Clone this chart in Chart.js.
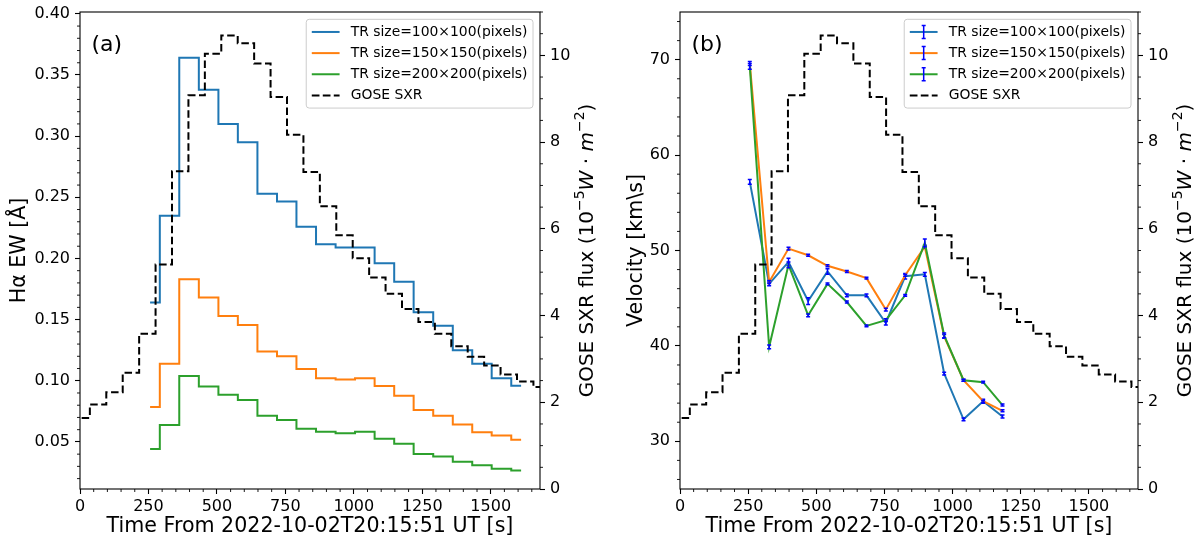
<!DOCTYPE html>
<html>
<head>
<meta charset="utf-8">
<script src="https://cdn.jsdelivr.net/npm/chart.js@4.4.0/dist/chart.umd.min.js"></script>
<style>
  html, body { margin: 0; padding: 0; background: #fff; }
  #wrap { position: relative; width: 1204px; height: 540px; }
  .panel { position: absolute; top: 0; width: 602px; height: 540px; }
</style>
</head>
<body>
<div id="wrap">
  <div class="panel" style="left:0"><canvas id="chartA" width="602" height="540"></canvas></div>
  <div class="panel" style="left:602px"><canvas id="chartB" width="602" height="540"></canvas></div>
</div>
<script>
const FONT = "'DejaVu Sans', sans-serif";

// 1. Data
// TR window times (s) - Halpha EW series, step 'mid'
const trTimes = [256, 327, 398, 470, 541, 612, 684, 755, 826, 898, 969, 1040, 1112, 1183, 1254, 1326, 1397, 1468, 1539, 1611];
const ewTR100 = [0.164, 0.235, 0.364, 0.338, 0.310, 0.295, 0.253, 0.2465, 0.226, 0.2116, 0.209, 0.209, 0.196, 0.181, 0.156, 0.145, 0.125, 0.114, 0.102, 0.096];
const ewTR150 = [0.0785, 0.114, 0.183, 0.168, 0.153, 0.1456, 0.124, 0.120, 0.1096, 0.102, 0.101, 0.102, 0.0957, 0.0878, 0.076, 0.0714, 0.0643, 0.058, 0.0553, 0.0518];
const ewTR200 = [0.0442, 0.0638, 0.1038, 0.0954, 0.0886, 0.0842, 0.0714, 0.0679, 0.0608, 0.0584, 0.057, 0.0584, 0.0525, 0.0484, 0.0402, 0.038, 0.0337, 0.0309, 0.028, 0.0266];

// GOES SXR flux (1e-5 W/m^2), step 'mid'
const goesTimes = [6, 66, 126, 186, 246, 306, 366, 426, 486, 546, 606, 666, 726, 786, 846, 906, 966, 1026, 1086, 1146, 1206, 1266, 1326, 1386, 1446, 1506, 1566, 1626, 1686];
const goesFlux = [1.64, 1.95, 2.23, 2.68, 3.58, 5.18, 7.33, 9.08, 10.04, 10.46, 10.28, 9.81, 9.04, 8.17, 7.31, 6.52, 5.85, 5.32, 4.88, 4.50, 4.15, 3.85, 3.58, 3.29, 3.05, 2.85, 2.64, 2.48, 2.35];

// velocities (km/s) with error bars
const velTimes = [256, 327, 398, 470, 541, 612, 684, 755, 826, 898, 969, 1040, 1112, 1183];
const velTR100 = [57.2, 46.5, 48.8, 44.7, 47.8, 45.3, 45.3, 42.4, 47.3, 47.5, 37.1, 32.3, 34.2, 32.6];
const velTR150 = [69.6, 46.7, 50.2, 49.5, 48.4, 47.8, 47.1, 43.8, 47.4, 50.4, 41.0, 36.4, 34.2, 33.2];
const velTR200 = [69.3, 39.9, 48.5, 43.2, 46.5, 44.6, 42.1, 42.7, 45.3, 50.8, 41.1, 36.4, 36.2, 33.8];
const errTR100 = [0.25, 0.2, 0.4, 0.35, 0.3, 0.15, 0.15, 0.2, 0.3, 0.2, 0.15, 0.15, 0.2, 0.15];
const errTR150 = [0.2, 0.15, 0.15, 0.1, 0.1, 0.1, 0.1, 0.15, 0.1, 0.15, 0.2, 0.1, 0.1, 0.1];
const errTR200 = [0.3, 0.2, 0.3, 0.15, 0.1, 0.1, 0.1, 0.15, 0.1, 0.4, 0.25, 0.1, 0.1, 0.1];

// tick labels
const timeTicks = [0, 250, 500, 750, 1000, 1250, 1500];
const ewTicks = [0.05, 0.10, 0.15, 0.20, 0.25, 0.30, 0.35, 0.40];
const fluxTicks = [0, 2, 4, 6, 8, 10];
const velTicks = [30, 40, 50, 60, 70];

const seriesNames = ['TR size=100\u00d7100(pixels)', 'TR size=150\u00d7150(pixels)', 'TR size=200\u00d7200(pixels)', 'GOSE SXR'];
const seriesColors = ['#1f77b4', '#ff7f0e', '#2ca02c', '#000000'];

function toXY(xs, ys) {
  return xs.map((x, i) => ({ x: x, y: ys[i] }));
}

// 2. Extra drawing: frame, minor ticks, error bars, legend, labels
function drawMinor(ctx, scale, step, major, side, a) {
  const n0 = Math.ceil(scale.min / step - 1e-9), n1 = Math.floor(scale.max / step + 1e-9);
  ctx.beginPath();
  for (let n = n0; n <= n1; n++) {
    const v = n * step;
    const r = v / major;
    if (Math.abs(r - Math.round(r)) < 1e-6) continue;
    const p = scale.getPixelForValue(v);
    if (side === 'bottom') { ctx.moveTo(p, a.bottom); ctx.lineTo(p, a.bottom + 3); }
    if (side === 'left') { ctx.moveTo(a.left, p); ctx.lineTo(a.left - 3, p); }
    if (side === 'right') { ctx.moveTo(a.right, p); ctx.lineTo(a.right + 3, p); }
  }
  ctx.stroke();
}

function drawLegend(ctx, a, withErr) {
  const fs = 13.9;
  ctx.font = fs + 'px ' + FONT;
  const tw = Math.max(...seriesNames.map(s => ctx.measureText(s).width));
  const w = tw + 0.8 * fs + 2 * fs + 0.8 * fs;
  const rowH = 14.2, gap = 0.5 * fs;
  const h = 0.8 * fs + 4 * rowH + 3 * gap;
  const bx = a.right - 7 - w, by = a.top + 7.3;
  ctx.save();
  ctx.beginPath();
  ctx.roundRect(bx, by, w, h, 3);
  ctx.fillStyle = 'rgba(255,255,255,0.8)';
  ctx.fill();
  ctx.strokeStyle = '#cccccc';
  ctx.lineWidth = 1;
  ctx.stroke();
  seriesNames.forEach((name, i) => {
    const cy = by + 0.4 * fs + rowH / 2 + i * (rowH + gap);
    const x0 = bx + 0.4 * fs, x1 = x0 + 2 * fs;
    ctx.beginPath();
    ctx.strokeStyle = seriesColors[i];
    ctx.lineWidth = 2;
    ctx.setLineDash(i === 3 ? [7.7, 3.3] : []);
    ctx.moveTo(x0, cy); ctx.lineTo(x1, cy);
    ctx.stroke();
    ctx.setLineDash([]);
    if (withErr && i < 3) {
      const xc = (x0 + x1) / 2;
      ctx.beginPath();
      ctx.strokeStyle = '#0000ff';
      ctx.lineWidth = 1.5;
      ctx.moveTo(xc, cy - 6.5); ctx.lineTo(xc, cy + 6.5);
      ctx.moveTo(xc - 2, cy - 6.5); ctx.lineTo(xc + 2, cy - 6.5);
      ctx.moveTo(xc - 2, cy + 6.5); ctx.lineTo(xc + 2, cy + 6.5);
      ctx.stroke();
    }
    ctx.fillStyle = '#000';
    ctx.textBaseline = 'middle';
    ctx.textAlign = 'left';
    ctx.fillText(name, x1 + 0.8 * fs, cy);
  });
  ctx.restore();
}

function drawRightTitle(ctx, a) {
  // GOSE SXR flux (10^-5 W.m^-2), mathtext-like
  const parts = [
    { t: 'GOSE SXR flux (10', f: '20px ' + FONT, dy: 0 },
    { t: '\u22125', f: '14px ' + FONT, dy: -8 },
    { t: 'W', f: 'italic 20px ' + FONT, dy: 0 },
    { t: ' \u00b7 ', f: '20px ' + FONT, dy: 0 },
    { t: 'm', f: 'italic 20px ' + FONT, dy: 0 },
    { t: '\u22122', f: '14px ' + FONT, dy: -8 },
    { t: ')', f: '20px ' + FONT, dy: 0 }
  ];
  ctx.save();
  let total = 0;
  parts.forEach(p => { ctx.font = p.f; p.w = ctx.measureText(p.t).width; total += p.w; });
  ctx.translate(a.right + 46, (a.top + a.bottom) / 2);
  ctx.rotate(-Math.PI / 2);
  ctx.fillStyle = '#000';
  ctx.textBaseline = 'middle';
  ctx.textAlign = 'left';
  let x = -total / 2;
  parts.forEach(p => {
    ctx.font = p.f;
    ctx.fillText(p.t, x, p.dy + 2);
    x += p.w;
  });
  ctx.restore();
}

const panelExtras = {
  id: 'panelExtras',
  afterDatasetDraw(chart, args) {
    const ds = chart.data.datasets[args.index];
    if (!ds.yErr) return;
    const ctx = chart.ctx, xs = chart.scales.x, ys = chart.scales[ds.yAxisID];
    ctx.save();
    ctx.strokeStyle = '#0000ff';
    ctx.lineWidth = 1.5;
    ds.data.forEach((p, i) => {
      const px = xs.getPixelForValue(p.x);
      const y1 = ys.getPixelForValue(p.y - ds.yErr[i]);
      const y2 = ys.getPixelForValue(p.y + ds.yErr[i]);
      ctx.beginPath();
      ctx.moveTo(px, y1); ctx.lineTo(px, y2);
      ctx.moveTo(px - 2, y1); ctx.lineTo(px + 2, y1);
      ctx.moveTo(px - 2, y2); ctx.lineTo(px + 2, y2);
      ctx.stroke();
    });
    ctx.restore();
  },
  afterDraw(chart, args, opts) {
    const ctx = chart.ctx, a = chart.chartArea;
    ctx.save();
    ctx.strokeStyle = '#000';
    ctx.lineWidth = 1.1;
    ctx.strokeRect(a.left, a.top, a.right - a.left, a.bottom - a.top);
    ctx.lineWidth = 0.9;
    drawMinor(ctx, chart.scales.x, 50, 250, 'bottom', a);
    drawMinor(ctx, chart.scales.y, opts.minorY, opts.majorY, 'left', a);
    drawMinor(ctx, chart.scales.y2, 0.5, 2, 'right', a);
    ctx.fillStyle = '#000';
    ctx.font = '22px ' + FONT;
    ctx.textAlign = 'left';
    ctx.textBaseline = 'alphabetic';
    ctx.fillText(opts.label, a.left + 11.5, a.top + 39);
    ctx.restore();
    drawRightTitle(ctx, a);
    drawLegend(ctx, a, opts.errLegend);
  }
};

// 3. Chart builder
function noPad(s) { s.paddingTop = 0; s.paddingBottom = 0; s.paddingLeft = 0; s.paddingRight = 0; }
function fixTicks(vals) { return s => { s.ticks = vals.map(v => ({ value: v })); }; }

function makeChart(id, datasets, yCfg, extras) {
  const tickFont = { family: FONT, size: 16 };
  const titleFont = { family: FONT, size: 20.6, lineHeight: 1.2 };
  const gridCfg = { drawOnChartArea: false, drawTicks: true, tickLength: 5, tickWidth: 1.1, tickColor: '#000' };
  return new Chart(document.getElementById(id), {
    type: 'line',
    data: { datasets: datasets },
    plugins: [panelExtras],
    options: {
      responsive: false,
      animation: false,
      events: [],
      layout: { padding: { top: 12, left: 0, right: 0, bottom: 0 } },
      plugins: { legend: { display: false }, tooltip: { enabled: false }, panelExtras: extras },
      scales: {
        x: {
          type: 'linear', position: 'bottom', min: 0, max: 1680,
          afterBuildTicks: fixTicks(timeTicks),
          afterFit: s => { s.height = 51; noPad(s); },
          ticks: { autoSkip: false, maxRotation: 0, padding: 3, color: '#000', font: tickFont, callback: v => String(v) },
          grid: gridCfg, border: { display: false },
          title: { display: true, text: 'Time From 2022-10-02T20:15:51 UT [s]', color: '#000', font: titleFont, padding: { top: 0, bottom: 1 } }
        },
        y: {
          type: 'linear', position: 'left', min: yCfg.min, max: yCfg.max,
          afterBuildTicks: fixTicks(yCfg.ticks),
          afterFit: s => { s.width = yCfg.width; noPad(s); },
          ticks: { autoSkip: false, padding: 5, color: '#000', font: tickFont, callback: yCfg.fmt },
          grid: gridCfg, border: { display: false },
          title: { display: true, text: yCfg.title, color: '#000', font: titleFont, padding: { top: yCfg.titlePad, bottom: 0 } }
        },
        y2: {
          type: 'linear', position: 'right', min: 0, max: 11,
          afterBuildTicks: fixTicks(fluxTicks),
          afterFit: s => { s.width = yCfg.rightWidth; noPad(s); },
          ticks: { autoSkip: false, padding: 5, color: '#000', font: tickFont, callback: v => String(v) },
          grid: gridCfg, border: { display: false }
        }
      }
    }
  });
}

function goesDataset() {
  return {
    data: toXY(goesTimes, goesFlux), yAxisID: 'y2', order: 0,
    borderColor: '#000', borderWidth: 2, borderDash: [7.5, 3.5],
    stepped: 'middle', pointRadius: 0, fill: false, clip: 0
  };
}

function stepDataset(ys, color, order) {
  return {
    data: toXY(trTimes, ys), yAxisID: 'y', order: order,
    borderColor: color, borderWidth: 2, stepped: 'middle', pointRadius: 0, fill: false
  };
}

function velDataset(ys, errs, color, order) {
  return {
    data: toXY(velTimes, ys), yAxisID: 'y', order: order, yErr: errs,
    borderColor: color, borderWidth: 2, pointRadius: 0, tension: 0, fill: false
  };
}

// 4. Panel (a)
makeChart('chartA', [
  stepDataset(ewTR100, seriesColors[0], 3),
  stepDataset(ewTR150, seriesColors[1], 2),
  stepDataset(ewTR200, seriesColors[2], 1),
  goesDataset()
], {
  min: 0.0115, max: 0.4015, ticks: ewTicks, width: 80, rightWidth: 62, titlePad: 7,
  title: 'H\u03b1 EW [\u00c5]', fmt: v => v.toFixed(2)
}, { label: '(a)', minorY: 0.01, majorY: 0.05, errLegend: false });

// 5. Panel (b)
makeChart('chartB', [
  velDataset(velTR100, errTR100, seriesColors[0], 3),
  velDataset(velTR150, errTR150, seriesColors[1], 2),
  velDataset(velTR200, errTR200, seriesColors[2], 1),
  goesDataset()
], {
  min: 25, max: 75, ticks: velTicks, width: 78, rightWidth: 66, titlePad: 22,
  title: 'Velocity [km\\s]', fmt: v => String(v)
}, { label: '(b)', minorY: 2, majorY: 10, errLegend: true });
</script>
</body>
</html>
